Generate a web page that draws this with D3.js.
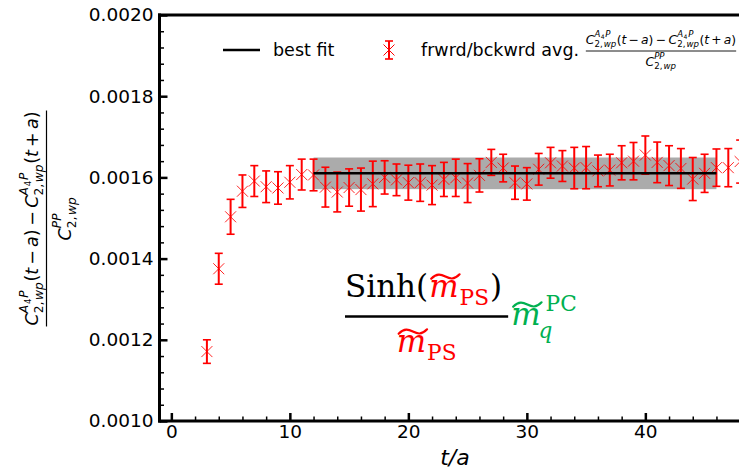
<!DOCTYPE html>
<html><head><meta charset="utf-8">
<script src="https://cdn.jsdelivr.net/npm/d3@7"></script>
<style>body{margin:0;background:#fff}svg{display:block}</style>
</head><body><svg id="c" width="739" height="471"></svg>
<script>
// ---------------- data ----------------
const tValues = [3,4,5,6,7,8,9,10,11,12,13,14,15,16,17,18,19,20,21,22,23,24,25,26,27,28,29,30,31,32,33,34,35,36,37,38,39,40,41,42,43,44,45,46,47,48];
const ratioValues = [0.001171,0.001375,0.001503,0.001566,0.001591,0.001577,0.001574,0.001588,0.001607,0.001606,
  0.001576,0.001564,0.001575,0.001570,0.001584,0.001600,0.001594,0.001587,0.001587,0.001581,
  0.001595,0.001599,0.001586,0.001605,0.001637,0.001623,0.001587,0.001584,0.001620,0.001636,
  0.001628,0.001623,0.001624,0.001616,0.001618,0.001636,0.001640,0.001655,0.001637,0.001629,
  0.001622,0.001596,0.001610,0.001624,0.001624,0.001639];
const ratioErrors = [0.000029,0.000038,0.000043,0.000040,0.000038,0.000039,0.000040,0.000041,0.000038,0.000039,
  0.000049,0.000049,0.000046,0.000053,0.000056,0.000041,0.000039,0.000043,0.000046,0.000048,
  0.000042,0.000046,0.000048,0.000041,0.000032,0.000034,0.000041,0.000040,0.000039,0.000038,
  0.000038,0.000051,0.000052,0.000039,0.000039,0.000042,0.000046,0.000047,0.000050,0.000049,
  0.000049,0.000053,0.000047,0.000046,0.000047,0.000053];
const fitValue = 0.001610;
const fitError = 0.000039;
const fitRange = [12, 46];
const xTickValues = [0, 10, 20, 30, 40];
const xMinorTicks = [2,4,6,8,12,14,16,18,22,24,26,28,32,34,36,38,42,44,46];
const yTickValues = [0.0010, 0.0012, 0.0014, 0.0016, 0.0018, 0.0020];
const yMinorTicks = [0.00104,0.00108,0.00112,0.00116,0.00124,0.00128,0.00132,0.00136,0.00144,0.00148,0.00152,0.00156,0.00164,0.00168,0.00172,0.00176,0.00184,0.00188,0.00192,0.00196];
const legendLabels = ["best fit", "frwrd/bckwrd avg."];
const xLabel = ["t", "/", "a"];

// ---------------- setup ----------------
const RED = "#ff0000", GREEN = "#00b050";
const svg = d3.select("#c");
const x = d3.scaleLinear().domain([-1, 48]).range([159.5, 740.15]);
const y = d3.scaleLinear().domain([0.0010, 0.0020]).range([421, 15]);
const SANS = "DejaVu Sans";

// math-like text layout helper
function mathRun(g, items, x0, y0, size, fill, family) {
  let xx = x0;
  for (const it of items) {
    if (it.sup || it.sub) {
      let w1 = 0, w2 = 0;
      if (it.sup) w1 = mathRun(g, it.sup, xx, y0 - size * (it.supOff || 0.5), size * 0.7, fill, family) - xx;
      if (it.sub) w2 = mathRun(g, it.sub, xx, y0 + size * (it.subOff || 0.2), size * 0.7, fill, family) - xx;
      xx += Math.max(w1, w2) + size * 0.04;
    } else if (it.sp) {
      xx += it.sp * size;
    } else {
      const t = g.append("text").attr("x", xx).attr("y", y0)
        .attr("font-size", size).attr("font-family", it.ff || family)
        .attr("fill", it.c || fill).attr("font-style", it.it ? "italic" : "normal")
        .text(it.t);
      xx += t.node().getComputedTextLength();
    }
  }
  return xx;
}
function centeredRun(parent, items, cx, y0, size, fill, family) {
  const g = parent.append("g");
  const w = mathRun(g, items, 0, y0, size, fill, family);
  g.attr("transform", `translate(${cx - w / 2},0)`);
  return w;
}
const Cterm = [{t:"C", it:1}, {sup:[{t:"A", it:1}, {sp:0.06}, {sub:[{t:"4"}], subOff:0.3}, {sp:0.04}, {t:"P", it:1}], sub:[{t:"2,"}, {sp:0.12}, {t:"wp", it:1}], supOff:0.6, subOff:0.26}];
const numItems = [...Cterm, {t:"("}, {t:"t", it:1}, {sp:0.18}, {t:"−"}, {sp:0.18}, {t:"a", it:1}, {t:")"},
  {sp:0.2}, {t:"−"}, {sp:0.2},
  ...Cterm, {t:"("}, {t:"t", it:1}, {sp:0.18}, {t:"+"}, {sp:0.18}, {t:"a", it:1}, {t:")"}];
const denItems = [{t:"C", it:1}, {sup:[{t:"PP", it:1}], sub:[{t:"2,"}, {sp:0.12}, {t:"wp", it:1}], supOff:0.6, subOff:0.26}];

// ---------------- plot marks ----------------
const data = tValues.map((t, i) => ({t, v: ratioValues[i], e: ratioErrors[i]}));
const plot = svg.append("g");
plot.append("rect")
  .attr("x", x(fitRange[0])).attr("width", x(fitRange[1]) - x(fitRange[0]))
  .attr("y", y(fitValue + fitError)).attr("height", y(fitValue - fitError) - y(fitValue + fitError))
  .attr("fill", "#ababab");

const pts = plot.selectAll("g.pt").data(data).join("g").attr("class", "pt");
pts.append("line").attr("x1", d => x(d.t)).attr("x2", d => x(d.t))
  .attr("y1", d => y(d.v + d.e)).attr("y2", d => y(d.v - d.e))
  .attr("stroke", RED).attr("stroke-width", 2);
pts.append("line").attr("x1", d => x(d.t) - 4).attr("x2", d => x(d.t) + 4)
  .attr("y1", d => y(d.v + d.e)).attr("y2", d => y(d.v + d.e))
  .attr("stroke", RED).attr("stroke-width", 1.6);
pts.append("line").attr("x1", d => x(d.t) - 4).attr("x2", d => x(d.t) + 4)
  .attr("y1", d => y(d.v - d.e)).attr("y2", d => y(d.v - d.e))
  .attr("stroke", RED).attr("stroke-width", 1.6);
pts.append("path")
  .attr("d", d => { const cx = x(d.t), cy = y(d.v), r = 5.5;
    return `M${cx-r},${cy-r}L${cx+r},${cy+r}M${cx-r},${cy+r}L${cx+r},${cy-r}`; })
  .attr("stroke", RED).attr("stroke-width", 1).attr("stroke-opacity", 0.85).attr("fill", "none");

plot.append("line")
  .attr("x1", x(fitRange[0])).attr("x2", x(fitRange[1]))
  .attr("y1", y(fitValue)).attr("y2", y(fitValue))
  .attr("stroke", "#000").attr("stroke-width", 2.5);

// ---------------- axes ----------------
function styleAxis(g, w) {
  g.select(".domain").remove();
  g.selectAll(".tick line").attr("stroke", "#000").attr("stroke-width", w);
  g.selectAll(".tick text").attr("font-family", SANS).attr("font-size", 18.5).attr("fill", "#000");
}
svg.append("g").attr("transform", "translate(0,421)")
  .call(d3.axisBottom(x).tickValues(xTickValues).tickSize(-8).tickSizeOuter(0).tickPadding(4).tickFormat(d3.format("d")))
  .call(g => styleAxis(g, 2.5));
svg.append("g").attr("transform", "translate(0,421)")
  .call(d3.axisBottom(x).tickValues(xMinorTicks).tickSize(-4.5).tickSizeOuter(0).tickFormat(""))
  .call(g => styleAxis(g, 1.5));
svg.append("g").attr("transform", "translate(159.5,0)")
  .call(d3.axisLeft(y).tickValues(yTickValues).tickSize(-8).tickSizeOuter(0).tickPadding(6).tickFormat(d3.format(".4f")))
  .call(g => styleAxis(g, 2.5));
svg.append("g").attr("transform", "translate(159.5,0)")
  .call(d3.axisLeft(y).tickValues(yMinorTicks).tickSize(-4.5).tickSizeOuter(0).tickFormat(""))
  .call(g => styleAxis(g, 1.5));

// spines
const sp = svg.append("g").attr("stroke", "#000").attr("stroke-width", 3).attr("stroke-linecap", "square");
sp.append("line").attr("x1", 159.5).attr("x2", 159.5).attr("y1", 15).attr("y2", 421);
sp.append("line").attr("x1", 159.5).attr("x2", 739).attr("y1", 421).attr("y2", 421);
sp.append("line").attr("x1", 159.5).attr("x2", 739).attr("y1", 15).attr("y2", 15);

// x label
const xl = svg.append("text").attr("x", 455).attr("y", 465).attr("text-anchor", "middle")
  .attr("font-family", SANS).attr("font-size", 22).attr("font-style", "italic").attr("fill", "#000");
xl.text(xLabel.join(""));

// y label (rotated fraction)
const yl = svg.append("g").attr("transform", "translate(38,218.5) rotate(-90)");
const yNumW = centeredRun(yl, numItems, 0, 0, 17.5, "#000", SANS);
yl.append("line").attr("x1", -yNumW / 2 - 1).attr("x2", yNumW / 2 + 1).attr("y1", 8.5).attr("y2", 8.5)
  .attr("stroke", "#000").attr("stroke-width", 1.2);
centeredRun(yl, denItems, 0, 33, 17.5, "#000", SANS);

// ---------------- legend ----------------
const LY = 50;
const lg = svg.append("g");
lg.append("line").attr("x1", 223).attr("x2", 260).attr("y1", LY).attr("y2", LY).attr("stroke", "#000").attr("stroke-width", 2.5);
lg.append("text").attr("x", 273).attr("y", LY + 6).attr("font-family", SANS).attr("font-size", 17.5).text(legendLabels[0]);
const mx = 389;
lg.append("line").attr("x1", mx).attr("x2", mx).attr("y1", LY - 9).attr("y2", LY + 9).attr("stroke", RED).attr("stroke-width", 2);
lg.append("line").attr("x1", mx - 4).attr("x2", mx + 4).attr("y1", LY - 9).attr("y2", LY - 9).attr("stroke", RED).attr("stroke-width", 1.6);
lg.append("line").attr("x1", mx - 4).attr("x2", mx + 4).attr("y1", LY + 9).attr("y2", LY + 9).attr("stroke", RED).attr("stroke-width", 1.6);
lg.append("path").attr("d", `M${mx-5.5},${LY-5.5}L${mx+5.5},${LY+5.5}M${mx-5.5},${LY+5.5}L${mx+5.5},${LY-5.5}`)
  .attr("stroke", RED).attr("stroke-width", 1).attr("fill", "none");
lg.append("text").attr("x", 421).attr("y", LY + 6).attr("font-family", SANS).attr("font-size", 17.5).text(legendLabels[1]);
const lfc = 661;
const lNumW = centeredRun(lg, numItems, lfc, LY - 6, 12.3, "#000", SANS);
lg.append("line").attr("x1", lfc - lNumW / 2).attr("x2", lfc + lNumW / 2).attr("y1", LY + 1).attr("y2", LY + 1)
  .attr("stroke", "#000").attr("stroke-width", 0.9);
centeredRun(lg, denItems, lfc, LY + 16, 12.3, "#000", SANS);

// ---------------- big annotation ----------------
const SERIF = "DejaVu Serif";
const an = svg.append("g");
function tilde(g, x0, x1, yc, color) {
  const w = x1 - x0, a = 2.2;
  g.append("path")
    .attr("d", `M${x0},${yc + a} C${x0 + w * 0.2},${yc - a * 1.7} ${x0 + w * 0.35},${yc - a} ${x0 + w * 0.5},${yc} C${x0 + w * 0.65},${yc + a} ${x0 + w * 0.8},${yc + a * 1.7} ${x1},${yc - a}`)
    .attr("stroke", color).attr("stroke-width", 2.2).attr("fill", "none").attr("stroke-linecap", "round");
}
function txt(g, s, xx, yy, size, color, italic) {
  const t = g.append("text").attr("x", xx).attr("y", yy).attr("font-family", SERIF)
    .attr("font-size", size).attr("fill", color).attr("font-style", italic ? "italic" : "normal").text(s);
  return xx + t.node().getComputedTextLength();
}
function mPS(g, xx, base, size, color) {
  const x1 = txt(g, "m", xx, base, size, color, true);
  tilde(g, xx + 2, x1 + 1, base - size * 0.66, color);
  return txt(g, "PS", x1 + 1, base + size * 0.26, size * 0.7, color, false);
}
const BS = 31;
let cx = txt(an, "Sinh(", 345, 297, BS, "#000", false);
cx = mPS(an, cx + 1, 297, BS, RED);
cx = txt(an, ")", cx + 1, 297, BS, "#000", false);
an.append("line").attr("x1", 345).attr("x2", cx + 6).attr("y1", 316.5).attr("y2", 316.5).attr("stroke", "#000").attr("stroke-width", 2.6);
const fracC = (345 + cx + 6) / 2;
// denominator centered
const dg = an.append("g");
const dw = mPS(dg, 0, 352, BS, RED);
dg.attr("transform", `translate(${fracC - dw / 2},0)`);
// green factor
const gx0 = cx + 9;
const gx1 = txt(an, "m", gx0, 325, BS, GREEN, true);
tilde(an, gx0 + 2, gx1 + 1, 325 - BS * 0.66, GREEN);
txt(an, "q", gx1 - 2, 338, BS * 0.7, GREEN, true);
txt(an, "PC", gx1 + 5, 311, BS * 0.7, GREEN, false);
</script></body></html>
